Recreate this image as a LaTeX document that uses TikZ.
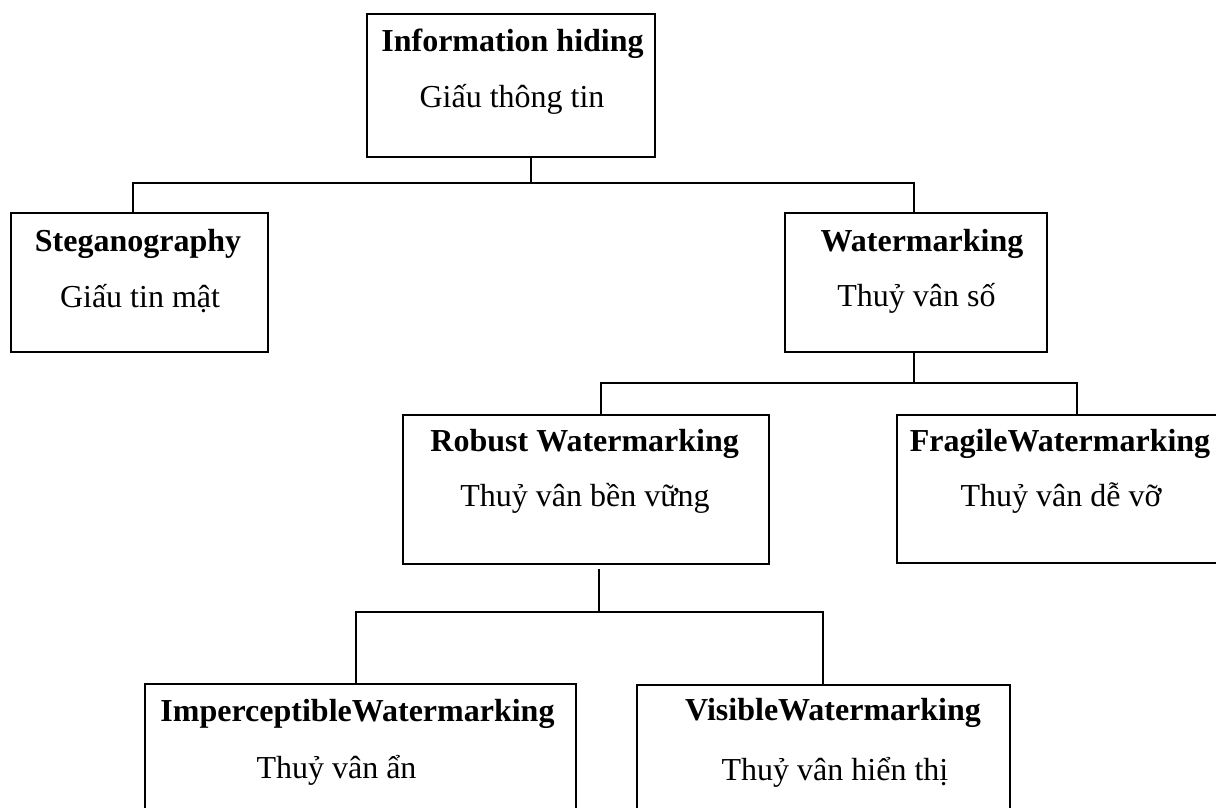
\documentclass[tikz,border=0pt]{standalone}
\usepackage{fontspec}
\setmainfont{Liberation Serif}
\tikzset{
  box/.style={draw, line width=2pt, rectangle, inner sep=0pt},
  head/.style={anchor=base, inner sep=0pt, font=\fontsize{32}{38}\selectfont\bfseries},
  sub/.style={anchor=base, inner sep=0pt, font=\fontsize{32}{38}\selectfont},
  link/.style={line width=2pt},
}
\begin{document}
\begin{tikzpicture}[x=1pt,y=-1pt]
\clip (0,0) rectangle (1216,808);
\fill[white] (0,0) rectangle (1216,808);

% boxes
\node[box, minimum width=288pt, minimum height=143pt] (ih)   at (511,85.5)  {};
\node[box, minimum width=257pt, minimum height=139pt] (steg) at (139.5,282.5) {};
\node[box, minimum width=262pt, minimum height=139pt] (wm)   at (916,282.5) {};
\node[box, minimum width=366pt, minimum height=149pt] (rob)  at (586,489.5) {};
\node[box, minimum width=338pt, minimum height=148pt] (frag) at (1066,489) {};
\node[box, minimum width=431pt, minimum height=160pt] (imp)  at (360.5,764) {};
\node[box, minimum width=373pt, minimum height=160pt] (vis)  at (823.5,765) {};

% texts
\node[head] (ih-a)   at (512.5,52)  {Information hiding};
\node[sub]  (ih-b)   at (512,107)   {Giấu thông tin};
\node[head] (steg-a) at (138,251.7) {Steganography};
\node[sub]  (steg-b) at (140,307)   {Giấu tin mật};
\node[head] (wm-a)   at (922,251.7) {Watermarking};
\node[sub]  (wm-b)   at (916.5,306.7) {Thuỷ vân số};
\node[head] (rob-a)  at (584.7,451.7) {Robust Watermarking};
\node[sub]  (rob-b)  at (585,506.7) {Thuỷ vân bền vững};
\node[head] (frag-a) at (1060,451.7) {FragileWatermarking};
\node[sub]  (frag-b) at (1061,506.7) {Thuỷ vân dễ vỡ};
\node[head] (imp-a)  at (357.5,721.7) {ImperceptibleWatermarking};
\node[sub]  (imp-b)  at (336.5,778) {Thuỷ vân ẩn};
\node[head] (vis-a)  at (833,720)   {VisibleWatermarking};
\node[sub]  (vis-b)  at (835,780)   {Thuỷ vân hiển thị};

% bus junctions
\coordinate (b1L) at (133,183);
\coordinate (b1M) at (531,183);
\coordinate (b1R) at (914,183);
\coordinate (b2L) at (601,383);
\coordinate (b2M) at (914,383);
\coordinate (b2R) at (1077,383);
\coordinate (b3L) at (356,611.5);
\coordinate (b3M) at (599,611.5);
\coordinate (b3R) at (823,611.5);

% connectors
\draw[link] (ih.south -| b1M) -- (b1M);
\draw[link] (steg.north -| b1L) -- (b1L) -- (b1R) -- (wm.north -| b1R);
\draw[link] (wm.south -| b2M) -- (b2M);
\draw[link] (rob.north -| b2L) -- (b2L) -- (b2R) -- (frag.north -| b2R);
\draw[link] ([yshift=-4pt]rob.south -| b3M) -- (b3M);
\draw[link] (imp.north -| b3L) -- (b3L) -- (b3R) -- (vis.north -| b3R);
\end{tikzpicture}
\end{document}
